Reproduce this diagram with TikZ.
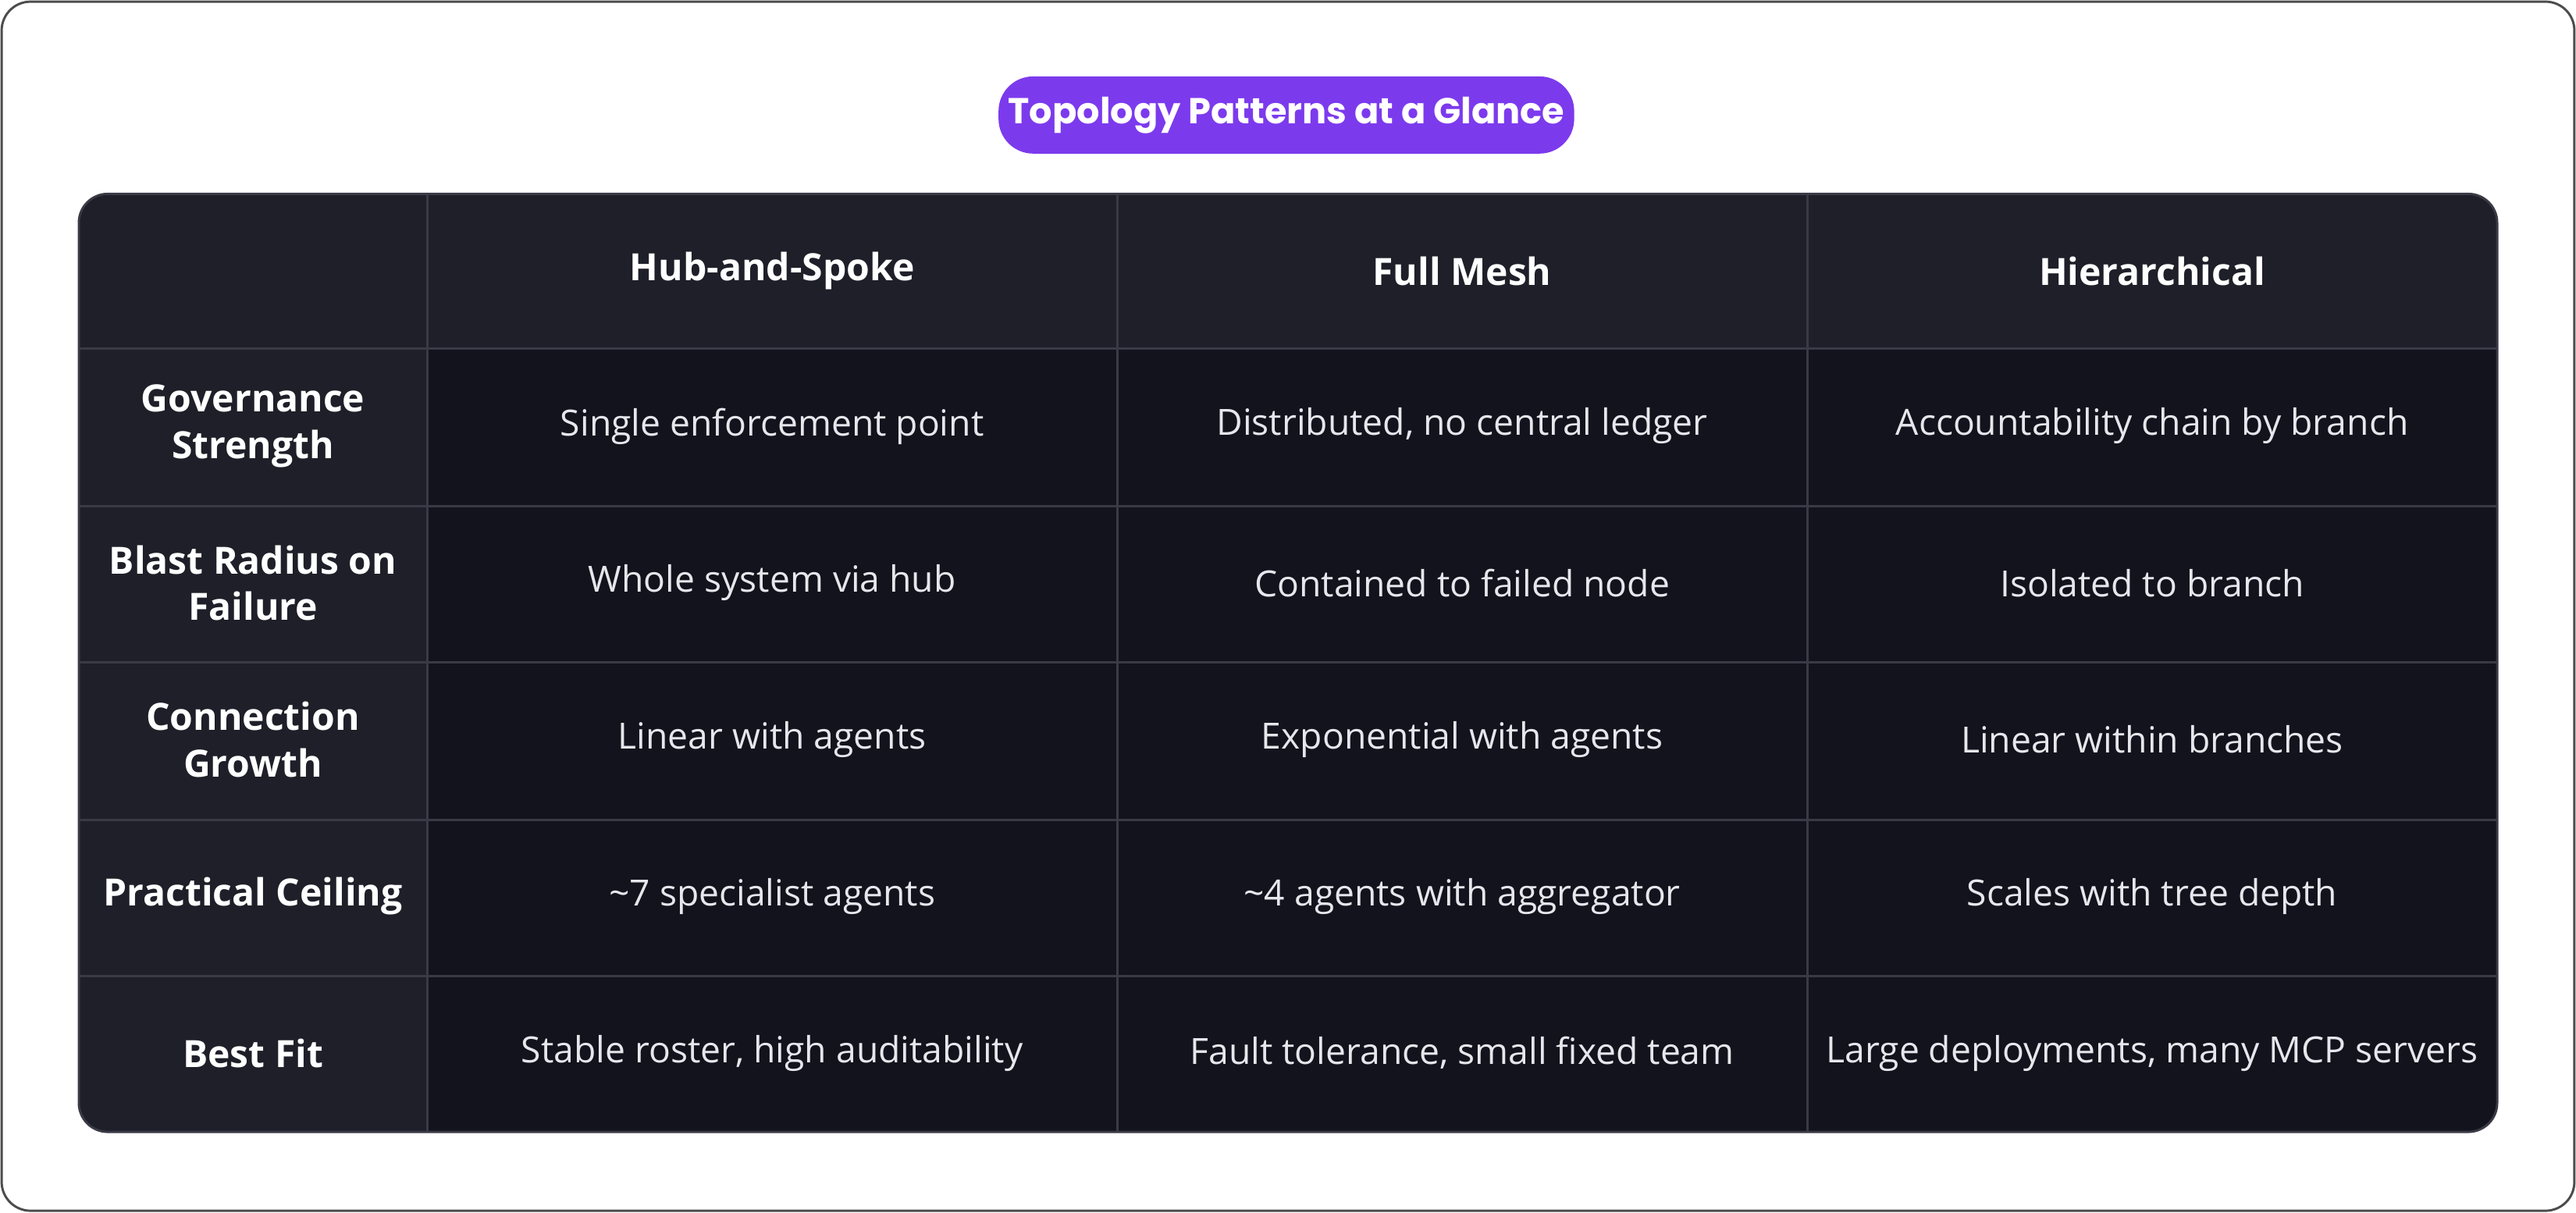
\documentclass[tikz,border=0pt]{standalone}
\usepackage{fontspec}
\setmainfont{Open Sans}
\newfontfamily\titlefont{Poppins}
\definecolor{pillpurple}{HTML}{7C3AED}
\definecolor{headbg}{HTML}{1F1F29}
\definecolor{cellbg}{HTML}{13131D}
\definecolor{gridline}{HTML}{3A3A46}
\definecolor{celltext}{HTML}{E6E6EC}
\tikzset{
  head/.style={text=white,font=\fontsize{13}{16}\selectfont\bfseries,align=center},
  cell/.style={text=celltext,font=\fontsize{12.5}{16}\selectfont,align=center},
}
\begin{document}
\begin{tikzpicture}[x=0.02cm,y=-0.02cm]
\useasboundingbox (0,0) rectangle (1568,738);
\draw [black!70,line width=0.8pt,rounded corners=10] (1,1) rectangle (1567,737);
% title pill
\node (title) [fill=pillpurple,rounded corners=12,minimum width=333*0.02cm,minimum height=47*0.02cm,
  text=white,font=\titlefont\fontsize{12.5}{15}\selectfont\bfseries] at (783,70) {Topology Patterns at a Glance};
% table background
\begin{scope}
\clip [rounded corners=10] (48,118) rectangle (1520,689);
\fill [cellbg] (48,118) rectangle (1520,689);
\fill [headbg] (48,118) rectangle (1520,212);
\fill [headbg] (48,118) rectangle (260,689);
\foreach \x in {260,680,1100} \draw [gridline,line width=0.8pt] (\x,118) -- (\x,689);
\foreach \y in {212,308,403,499,594} \draw [gridline,line width=0.8pt] (48,\y) -- (1520,\y);
\end{scope}
\draw [gridline,line width=0.8pt,rounded corners=10] (48,118) rectangle (1520,689);
% header row
\node (h1) [head] at (470,165) {Hub-and-Spoke};
\node (h2) [head] at (890,165) {Full Mesh};
\node (h3) [head] at (1310,165) {Hierarchical};
% first column
\foreach \t [count=\i] in {{Governance\\Strength},{Blast Radius on\\Failure},{Connection\\Growth},{Practical Ceiling},{Best Fit}}
  \node (r\i) [head] at (154,164+95.4*\i) {\t};
% body cells
\foreach \a/\b/\c [count=\i] in {
  Single enforcement point/{Distributed, no central ledger}/Accountability chain by branch,
  Whole system via hub/Contained to failed node/Isolated to branch,
  Linear with agents/Exponential with agents/Linear within branches,
  \textasciitilde7 specialist agents/\textasciitilde4 agents with aggregator/Scales with tree depth,
  {Stable roster, high auditability}/{Fault tolerance, small fixed team}/{Large deployments, many MCP servers}} {
  \node (c\i a) [cell] at (470,164+95.4*\i) {\a};
  \node (c\i b) [cell] at (890,164+95.4*\i) {\b};
  \node (c\i c) [cell] at (1310,164+95.4*\i) {\c};
}
\end{tikzpicture}
\end{document}
